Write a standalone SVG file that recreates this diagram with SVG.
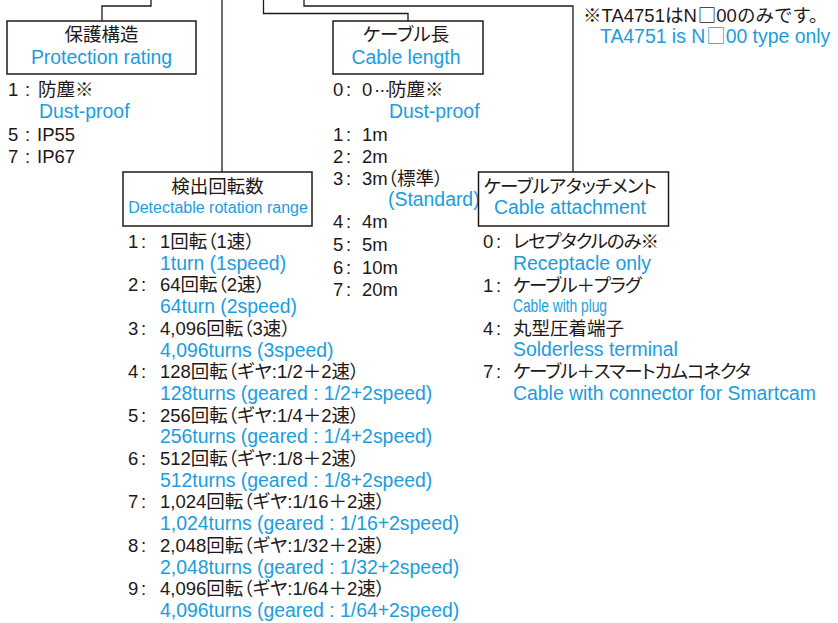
<svg xmlns="http://www.w3.org/2000/svg" width="838" height="623" viewBox="0 0 838 623">
<style>
.jp{font-family:"Liberation Sans","Noto Sans CJK JP",sans-serif;font-size:18.5px;fill:#231815;font-feature-settings:"palt"}
.en{font-family:"Liberation Sans","Noto Sans CJK JP",sans-serif;font-size:19.4px;fill:#1a9de0}
.cjk{font-family:"Noto Sans CJK JP",sans-serif;font-feature-settings:normal}
.kt{letter-spacing:-1.1px}
.mid{text-anchor:middle}
.box{fill:#fff;stroke:#231815;stroke-width:1.5}
.ln{fill:none;stroke:#231815;stroke-width:1.3}
</style>
<rect width="838" height="623" fill="#fff"/>
<g id="connectors">
<path class="ln" d="M151 0V6H102V21"/>
<path class="ln" d="M222 0V172"/>
<path class="ln" d="M263.5 0V13.5H408V21"/>
<path class="ln" d="M304 0V6H573V172"/>
</g>
<g id="node-protection">
<rect class="box" x="7" y="21" width="189" height="53"/>
<text class="jp mid" x="101.5" y="41">保護構造</text>
<text class="en mid" x="101.5" y="64">Protection rating</text>
</g>
<g id="list-protection">
<text class="jp" y="96"><tspan x="8">1</tspan><tspan x="25">:</tspan><tspan x="38">防塵※</tspan></text>
<text class="en" x="39" y="118">Dust-proof</text>
<text class="jp" y="141"><tspan x="8">5</tspan><tspan x="25">:</tspan><tspan x="37">IP55</tspan></text>
<text class="jp" y="163"><tspan x="8">7</tspan><tspan x="25">:</tspan><tspan x="37">IP67</tspan></text>
</g>
<g id="node-cable-length">
<rect class="box" x="333" y="21" width="150" height="53"/>
<text class="jp mid" x="406" y="41">ケーブル長</text>
<text class="en mid" x="406" y="64">Cable length</text>
</g>
<g id="list-cable-length">
<text class="jp" y="96"><tspan x="333">0</tspan><tspan x="346">:</tspan><tspan x="362">0</tspan><tspan x="374" style="letter-spacing:-1px">···</tspan><tspan x="388">防塵※</tspan></text>
<text class="en" x="389" y="118">Dust-proof</text>
<text class="jp" y="141"><tspan x="333">1</tspan><tspan x="346">:</tspan><tspan x="362">1m</tspan></text>
<text class="jp" y="163"><tspan x="333">2</tspan><tspan x="346">:</tspan><tspan x="362">2m</tspan></text>
<text class="jp" y="185"><tspan x="333">3</tspan><tspan x="346">:</tspan><tspan x="362">3m（標準）</tspan></text>
<text class="en" x="388" y="206">(Standard)</text>
<text class="jp" y="228"><tspan x="333">4</tspan><tspan x="346">:</tspan><tspan x="362">4m</tspan></text>
<text class="jp" y="251"><tspan x="333">5</tspan><tspan x="346">:</tspan><tspan x="362">5m</tspan></text>
<text class="jp" y="274"><tspan x="333">6</tspan><tspan x="346">:</tspan><tspan x="362">10m</tspan></text>
<text class="jp" y="296"><tspan x="333">7</tspan><tspan x="346">:</tspan><tspan x="362">20m</tspan></text>
</g>
<g id="note">
<text class="jp" x="583" y="22" style="font-feature-settings:normal">※TA4751はN<tspan class="cjk" dx="1">□</tspan>00のみです。</text>
<text class="en" x="600" y="43">TA4751 is N<tspan class="cjk" dx="1">□</tspan>00 type only</text>
</g>
<g id="node-rotation">
<rect class="box" x="123" y="172" width="189" height="54"/>
<text class="jp mid" x="217.5" y="193">検出回転数</text>
<text class="en mid" x="218" y="213" style="font-size:16px">Detectable rotation range</text>
</g>
<g id="list-rotation">
<text class="jp" y="248"><tspan x="128">1</tspan><tspan x="141">:</tspan><tspan x="160">1回転（1速）</tspan></text>
<text class="en" x="160" y="270">1turn (1speed)</text>
<text class="jp" y="291"><tspan x="128">2</tspan><tspan x="141">:</tspan><tspan x="160">64回転（2速）</tspan></text>
<text class="en" x="160" y="313">64turn (2speed)</text>
<text class="jp" y="335"><tspan x="128">3</tspan><tspan x="141">:</tspan><tspan x="160">4,096回転（3速）</tspan></text>
<text class="en" x="160" y="357">4,096turns (3speed)</text>
<text class="jp" y="378"><tspan x="128">4</tspan><tspan x="141">:</tspan><tspan x="160">128回転（ギヤ:1/2＋2速）</tspan></text>
<text class="en" x="160" y="400">128turns (geared : 1/2+2speed)</text>
<text class="jp" y="422"><tspan x="128">5</tspan><tspan x="141">:</tspan><tspan x="160">256回転（ギヤ:1/4＋2速）</tspan></text>
<text class="en" x="160" y="443">256turns (geared : 1/4+2speed)</text>
<text class="jp" y="465"><tspan x="128">6</tspan><tspan x="141">:</tspan><tspan x="160">512回転（ギヤ:1/8＋2速）</tspan></text>
<text class="en" x="160" y="487">512turns (geared : 1/8+2speed)</text>
<text class="jp" y="508"><tspan x="128">7</tspan><tspan x="141">:</tspan><tspan x="160">1,024回転（ギヤ:1/16＋2速）</tspan></text>
<text class="en" x="160" y="530">1,024turns (geared : 1/16+2speed)</text>
<text class="jp" y="552"><tspan x="128">8</tspan><tspan x="141">:</tspan><tspan x="160">2,048回転（ギヤ:1/32＋2速）</tspan></text>
<text class="en" x="160" y="574">2,048turns (geared : 1/32+2speed)</text>
<text class="jp" y="595"><tspan x="128">9</tspan><tspan x="141">:</tspan><tspan x="160">4,096回転（ギヤ:1/64＋2速）</tspan></text>
<text class="en" x="160" y="617">4,096turns (geared : 1/64+2speed)</text>
</g>
<g id="node-attachment">
<rect class="box" x="478.5" y="172" width="190" height="54"/>
<text class="jp mid" x="570" y="193" style="letter-spacing:-0.6px">ケーブルアタッチメント</text>
<text class="en mid" x="570" y="214">Cable attachment</text>
</g>
<g id="list-attachment">
<text class="jp" y="248"><tspan x="483">0</tspan><tspan x="496">:</tspan><tspan x="513" class="kt">レセプタクルのみ※</tspan></text>
<text class="en" x="513" y="270">Receptacle only</text>
<text class="jp" y="292"><tspan x="483">1</tspan><tspan x="496">:</tspan><tspan x="513" class="kt">ケーブル＋プラグ</tspan></text>
<text class="en" x="513" y="312" style="font-size:18px" textLength="94" lengthAdjust="spacingAndGlyphs">Cable with plug</text>
<text class="jp" y="335"><tspan x="483">4</tspan><tspan x="496">:</tspan><tspan x="513">丸型圧着端子</tspan></text>
<text class="en" x="513" y="356">Solderless terminal</text>
<text class="jp" y="378"><tspan x="483">7</tspan><tspan x="496">:</tspan><tspan x="513" class="kt">ケーブル＋スマートカムコネクタ</tspan></text>
<text class="en" x="513" y="400">Cable with connector for Smartcam</text>
</g>
</svg>
